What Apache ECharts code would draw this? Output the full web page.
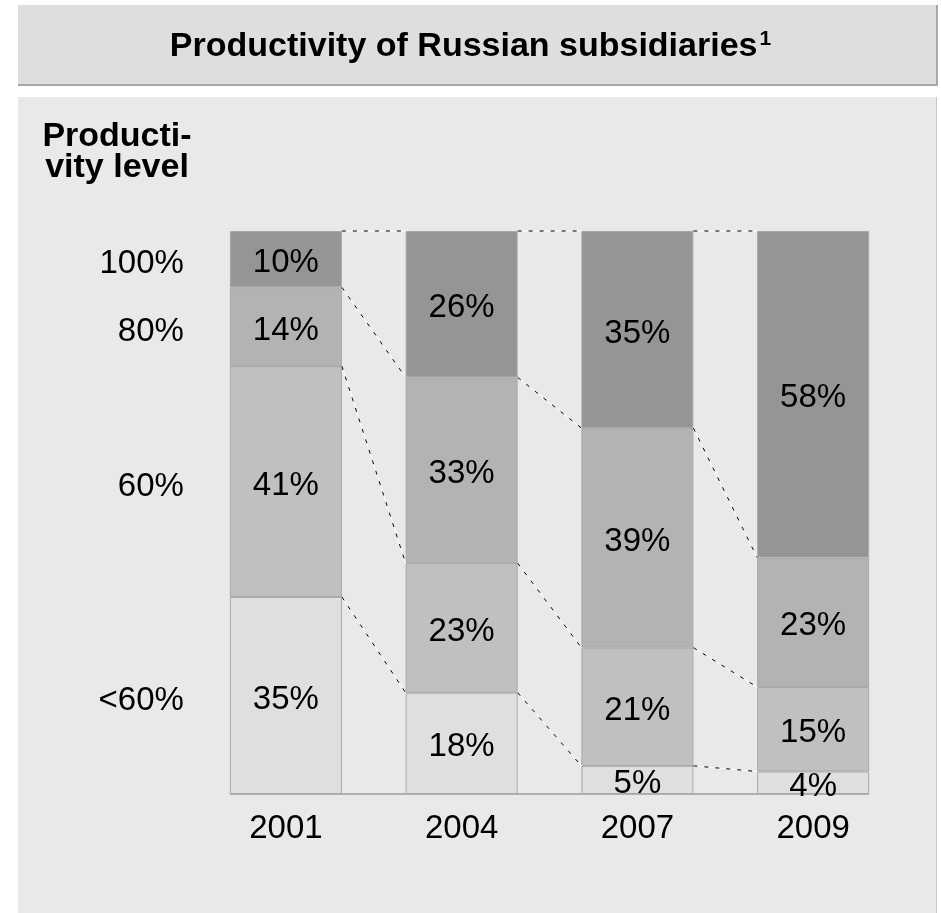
<!DOCTYPE html>
<html><head><meta charset="utf-8">
<script src="https://cdn.jsdelivr.net/npm/echarts@6/dist/echarts.min.js"></script>
<style>html,body{margin:0;padding:0;background:#fff}#c{width:941px;height:913px}</style>
</head><body><div id="c"></div>
<script>
// ---- data ----
const years = ['2001', '2004', '2007', '2009'];
const levelNames = ['<60%', '60%', '80%', '100%']; // bottom -> top
const level100 = [10, 26, 35, 58];
const level80 = [14, 33, 39, 23];
const level60 = [41, 23, 21, 15];
const levelLow = [35, 18, 5, 4];

// ---- styling constants ----
const FONT = '"Liberation Sans", Arial, sans-serif';
const BAR_W = 112;
const colors = ['#dfdfdf', '#c0c0c0', '#b3b3b3', '#959595'];

// stacked series (bottom -> top)
const stackData = [levelLow, level60, level80, level100];

// boundaries (cumulative from bottom) for each year
function boundaries(i) {
  const b = [];
  let s = 0;
  for (const d of stackData) { s += d[i]; b.push(s); }
  return b;
}
// connector data: [fromIndex, fromValue, toValue]
const connectors = [];
for (let i = 0; i < years.length - 1; i++) {
  const a = boundaries(i), c = boundaries(i + 1);
  for (let k = 0; k < a.length; k++) connectors.push([i, a[k], c[k]]);
}
// level labels at the middle of each 2001 segment
const levelLabelData = [];
{
  let s = 0;
  stackData.forEach((d, k) => {
    levelLabelData.push([0, s + d[0] / 2, levelNames[k]]);
    s += d[0];
  });
}

const chart = echarts.init(document.getElementById('c'), null, { renderer: 'canvas' });

const series = stackData.map((d, k) => ({
  name: levelNames[k],
  type: 'bar',
  stack: 'total',
  barWidth: BAR_W,
  data: d,
  itemStyle: { color: colors[k], borderColor: '#a8a8a8', borderWidth: 1 },
  label: {
    show: true, position: 'inside', formatter: '{c}%', offset: [0, 4],
    fontSize: 33, fontFamily: FONT, color: '#000'
  },
  emphasis: { disabled: true },
  z: 2
}));

// dashed connectors
series.push({
  type: 'custom',
  data: connectors,
  z: 3,
  silent: true,
  encode: { x: 0, y: 1 },
  renderItem: function (params, api) {
    const i = api.value(0);
    const p1 = api.coord([i, api.value(1)]);
    const p2 = api.coord([i + 1, api.value(2)]);
    const shape = { x1: p1[0] + BAR_W / 2, y1: p1[1], x2: p2[0] - BAR_W / 2, y2: p2[1] };
    return {
      type: 'group',
      children: [
        { type: 'line', shape: shape, style: { stroke: '#ffffff', lineWidth: 1 } },
        { type: 'line', shape: shape, style: { stroke: '#000000', lineWidth: 1, lineDash: [4, 7] } }
      ]
    };
  }
});

// baseline under bars
series.push({
  type: 'custom',
  data: [[0, 0]],
  z: 1,
  silent: true,
  renderItem: function (params, api) {
    const a = api.coord([0, 0]);
    const b = api.coord([years.length - 1, 0]);
    return {
      type: 'line',
      shape: { x1: a[0] - BAR_W / 2, y1: a[1], x2: b[0] + BAR_W / 2, y2: b[1] },
      style: { stroke: '#b0b0b0', lineWidth: 2 }
    };
  }
});

// level labels on the left
series.push({
  type: 'custom',
  data: levelLabelData,
  z: 3,
  silent: true,
  renderItem: function (params, api) {
    const p = api.coord([api.value(0), api.value(1)]);
    return {
      type: 'text',
      x: p[0] - BAR_W / 2 - 46,
      y: p[1] + 5,
      style: {
        text: levelLabelData[params.dataIndex][2],
        font: '33px ' + FONT,
        fill: '#000',
        textAlign: 'right',
        textVerticalAlign: 'middle'
      }
    };
  }
});

chart.setOption({
  backgroundColor: '#ffffff',
  animation: false,
  title: {
    text: 'Productivity of Russian subsidiaries{s|1}',
    left: 'center',
    top: 24,
    padding: [5, 0, 5, 14],
    textStyle: {
      fontSize: 34, fontWeight: 'bold', fontFamily: FONT, color: '#000',
      rich: { s: { fontSize: 21, fontWeight: 'bold', fontFamily: FONT, color: '#000', verticalAlign: 'top', padding: [0, 0, 14, 2] } }
    }
  },
  graphic: [
    { type: 'rect', z: -10, shape: { x: 18, y: 5, width: 919, height: 80 }, style: { fill: '#dedede' } },
    { type: 'rect', z: -9, shape: { x: 18, y: 84, width: 919, height: 2 }, style: { fill: '#a8a8a8' } },
    { type: 'rect', z: -9, shape: { x: 936, y: 5, width: 2, height: 81 }, style: { fill: '#a8a8a8' } },
    { type: 'rect', z: -10, shape: { x: 18, y: 97, width: 919, height: 816 }, style: { fill: '#e9e9e9' } },
    { type: 'rect', z: -9, shape: { x: 936, y: 97, width: 1, height: 816 }, style: { fill: '#c8c8c8' } },
    {
      type: 'text', z: 5, x: 117, y: 121,
      style: {
        text: 'Producti-\nvity level', font: 'bold 34px ' + FONT, fill: '#000',
        textAlign: 'center', textVerticalAlign: 'top', lineHeight: 31
      }
    }
  ],
  grid: { left: 198, right: 40, top: 231, bottom: 119 },
  xAxis: {
    type: 'category',
    data: years,
    axisLine: { show: false },
    axisTick: { show: false },
    axisLabel: { fontSize: 33, fontFamily: FONT, color: '#000', margin: 18 }
  },
  yAxis: {
    type: 'value', min: 0, max: 100,
    show: false, splitLine: { show: false }
  },
  series: series
});
</script>
</body></html>
